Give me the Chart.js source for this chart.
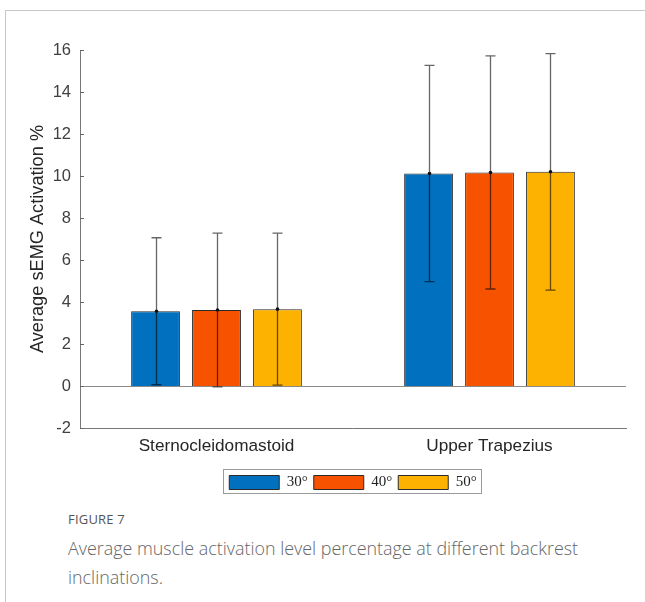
<!DOCTYPE html>
<html>
<head>
<meta charset="utf-8">
<script src="https://cdn.jsdelivr.net/npm/chart.js@4/dist/chart.umd.min.js"></script>
<style>
  body { margin: 0; background: #fff; }
  #card { position: absolute; left: 5px; top: 10px; width: 650px; height: 600px;
          border-top: 1px solid #c8c8c8; border-left: 1px solid #c8c8c8; }
  #wrap { position: absolute; left: 0; top: 0; width: 645px; height: 500px; }
  #fig { position: absolute; left: 68px; top: 510px; font-family: "Open Sans", sans-serif;
         font-size: 13px; color: #555; letter-spacing: 0.2px; }
  #cap { position: absolute; left: 68px; top: 534px; width: 540px; font-family: "Open Sans", sans-serif;
         font-weight: 300; font-size: 17.9px; line-height: 28.5px; color: #666; }
</style>
</head>
<body>
<div id="card"></div>
<div id="wrap"><canvas id="chart"></canvas></div>
<div id="fig">FIGURE 7</div>
<div id="cap">Average muscle activation level percentage at different backrest inclinations.</div>
<script>
// muscles on the x axis
const muscles = ["Sternocleidomastoid", "Upper Trapezius"];
const angles = ["30°", "40°", "50°"];

// mean activation per angle
const mean30 = [3.56, 10.12];
const mean40 = [3.62, 10.17];
const mean50 = [3.66, 10.2];

// standard deviation per angle
const sd30 = [3.5, 5.15];
const sd40 = [3.66, 5.55];
const sd50 = [3.62, 5.63];

const yTicks = [-2, 0, 2, 4, 6, 8, 10, 12, 14, 16];

const colors = ["#0070bf", "#f75200", "#fdb100"];

const errorBars = {
  id: "errorBars",
  afterLayout(chart) {
    // legend sits under the plot area, not the whole canvas
    const lg = chart.legend;
    const dx = (chart.chartArea.left + chart.chartArea.right) / 2 - (lg.left + lg.right) / 2;
    lg.left += dx;
    lg.right += dx;
    (lg.legendHitBoxes || []).forEach((b) => { b.left += dx; });
  },
  beforeDatasetsDraw(chart) {
    // baseline at zero
    const ctx = chart.ctx;
    const y = chart.scales.y.getPixelForValue(0);
    ctx.save();
    ctx.strokeStyle = "#8a8a8a";
    ctx.lineWidth = 1;
    ctx.beginPath();
    ctx.moveTo(chart.chartArea.left, Math.round(y) + 0.5);
    ctx.lineTo(chart.chartArea.right, Math.round(y) + 0.5);
    ctx.stroke();
    ctx.restore();
  },
  afterDatasetsDraw(chart) {
    const ctx = chart.ctx;
    const yScale = chart.scales.y;
    ctx.save();
    chart.data.datasets.forEach((ds, i) => {
      const meta = chart.getDatasetMeta(i);
      meta.data.forEach((bar, j) => {
        const m = ds.data[j];
        const s = ds.sd[j];
        const x = Math.round(bar.x) + 0.5;
        const top = yScale.getPixelForValue(m + s);
        const bot = yScale.getPixelForValue(m - s);
        ctx.strokeStyle = "rgba(0,0,0,0.6)";
        ctx.lineWidth = 1.3;
        ctx.beginPath();
        ctx.moveTo(x, top);
        ctx.lineTo(x, bot);
        ctx.moveTo(x - 5, top);
        ctx.lineTo(x + 5, top);
        ctx.moveTo(x - 5, bot);
        ctx.lineTo(x + 5, bot);
        ctx.stroke();
        ctx.fillStyle = "#111";
        ctx.beginPath();
        ctx.arc(x, yScale.getPixelForValue(m), 1.8, 0, Math.PI * 2);
        ctx.fill();
      });
    });
    ctx.restore();
  },
  afterDraw(chart) {
    const ctx = chart.ctx;
    const yScale = chart.scales.y;
    const left = chart.chartArea.left;
    ctx.save();
    ctx.strokeStyle = "#666";
    ctx.lineWidth = 1;
    // inward ticks
    yScale.ticks.forEach((t) => {
      const y = Math.round(yScale.getPixelForValue(t.value)) + 0.5;
      ctx.beginPath();
      ctx.moveTo(left, y);
      ctx.lineTo(left + 4, y);
      ctx.stroke();
    });
    // frame round the legend
    const boxes = chart.legend.legendHitBoxes;
    if (boxes && boxes.length) {
      const first = boxes[0];
      const last = boxes[boxes.length - 1];
      const x0 = Math.round(first.left) - 5.5;
      const x1 = Math.round(last.left + last.width) + 4.5;
      const y0 = Math.round(first.top) - 5.5;
      const y1 = Math.round(first.top + first.height) + 3.5;
      ctx.strokeStyle = "#9a9a9a";
      ctx.strokeRect(x0, y0, x1 - x0, y1 - y0);
    }
    ctx.restore();
  }
};

const series = [mean30, mean40, mean50];
const sds = [sd30, sd40, sd50];

new Chart(document.getElementById("chart"), {
  type: "bar",
  data: {
    labels: muscles,
    datasets: angles.map((a, i) => ({
      label: a,
      data: series[i],
      sd: sds[i],
      backgroundColor: colors[i],
      borderColor: "#2a2a2a",
      borderWidth: 1,
      categoryPercentage: 0.67,
      barPercentage: 0.8
    }))
  },
  options: {
    responsive: true,
    maintainAspectRatio: false,
    animation: false,
    layout: { padding: { left: 27, right: 19, top: 50, bottom: 0 } },
    plugins: {
      tooltip: { enabled: false },
      legend: {
        position: "bottom",
        labels: {
          boxWidth: 50,
          boxHeight: 14,
          padding: 6,
          color: "#222",
          font: { family: "Liberation Serif", size: 15 }
        }
      }
    },
    scales: {
      x: {
        grid: { display: false, drawTicks: false },
        border: { display: true, color: "#777" },
        ticks: { color: "#262626", font: { family: "Liberation Sans", size: 17.2 }, padding: 8 },
        afterFit(scale) { scale.height = 41; }
      },
      y: {
        min: -2,
        max: 16,
        afterBuildTicks(scale) { scale.ticks = yTicks.map((v) => ({ value: v })); },
        grid: { display: false, drawTicks: false },
        border: { display: true, color: "#777" },
        ticks: { color: "#404040", font: { family: "Liberation Sans", size: 16.5 }, padding: 9 },
        title: {
          display: true,
          text: "Average sEMG Activation %",
          color: "#262626",
          font: { family: "Liberation Sans", size: 18.2 },
          padding: { top: 0, bottom: 4 }
        },
        afterFit(scale) { scale.width = 53; }
      }
    }
  },
  plugins: [errorBars]
});
</script>
</body>
</html>
